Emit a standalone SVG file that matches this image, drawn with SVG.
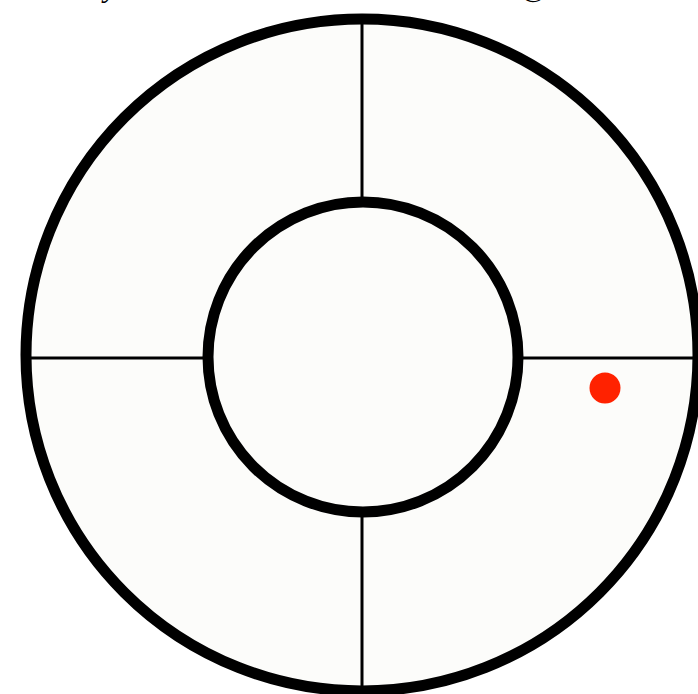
<svg xmlns="http://www.w3.org/2000/svg" width="698" height="694" viewBox="0 0 698 694">
<style>
.ring{fill:#fcfcfa;stroke:#000;stroke-width:11}
.spoke{stroke:#000;stroke-width:3;fill:none}
.lbl{font-family:"Liberation Serif",serif;font-style:italic;font-size:30px;fill:#000}
</style>
<rect width="698" height="694" fill="#fff"/>
<text class="lbl" x="104" y="-3">y</text>
<text class="lbl" x="520" y="-4">@</text>
<g id="outer"><circle class="ring" cx="362" cy="355" r="336"/></g>
<g id="connectors">
<line class="spoke" x1="362" y1="20" x2="362" y2="205"/>
<line class="spoke" x1="362" y1="510" x2="362" y2="690"/>
<line class="spoke" x1="28" y1="358" x2="210" y2="358"/>
<line class="spoke" x1="516" y1="358" x2="698" y2="358"/>
</g>
<g id="inner"><circle class="ring" cx="363" cy="357" r="155"/></g>
<g id="dot"><circle cx="605" cy="388" r="15.5" fill="#ff2200"/></g>
</svg>
